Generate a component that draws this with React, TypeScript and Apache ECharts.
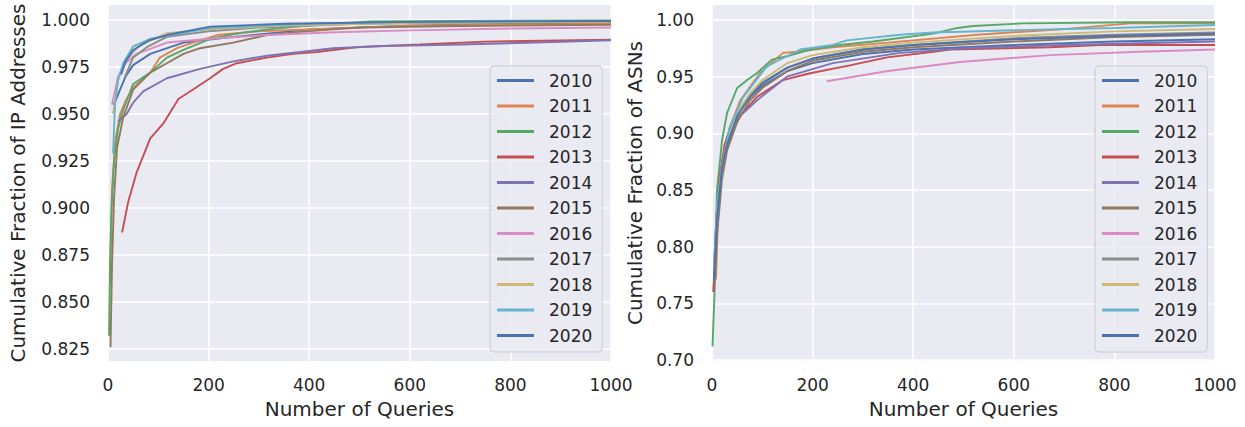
import React, { useEffect, useRef } from "react";
import * as echarts from "echarts";

const years = ["2010", "2011", "2012", "2013", "2014", "2015", "2016", "2017", "2018", "2019", "2020"];
const palette = ["#4C72B0", "#DD8452", "#55A868", "#C44E52", "#8172B3", "#937860", "#DA8BC3", "#8C8C8C", "#CCB974", "#64B5CD", "#4C72B0"];

const xTicks = [0, 200, 400, 600, 800, 1000];
const ipTicks = [0.825, 0.85, 0.875, 0.9, 0.925, 0.95, 0.975, 1.0];
const asnTicks = [0.7, 0.75, 0.8, 0.85, 0.9, 0.95, 1.0];

// Left panel: cumulative fraction of IP addresses
const ip2010 = [[10, 0.955], [15, 0.957], [24, 0.963], [35, 0.97], [50, 0.976], [84, 0.982], [150, 0.988], [250, 0.991], [400, 0.995], [600, 0.997], [800, 0.998], [1000, 0.9985]];
const ip2011 = [[4, 0.86], [8, 0.91], [14, 0.935], [24, 0.95], [35, 0.957], [50, 0.964], [84, 0.972], [103, 0.98], [137, 0.985], [169, 0.988], [217, 0.992], [300, 0.994], [400, 0.995], [600, 0.997], [800, 0.9975], [1000, 0.998]];
const ip2012 = [[2, 0.832], [4, 0.87], [7, 0.9], [12, 0.925], [20, 0.942], [30, 0.952], [50, 0.966], [84, 0.972], [117, 0.98], [149, 0.984], [203, 0.99], [262, 0.993], [316, 0.995], [400, 0.997], [520, 0.9992], [700, 0.9995], [1000, 0.9997]];
const ip2013 = [[28, 0.887], [40, 0.903], [57, 0.919], [84, 0.937], [110, 0.945], [140, 0.958], [169, 0.963], [203, 0.969], [229, 0.974], [256, 0.977], [316, 0.98], [368, 0.982], [415, 0.983], [501, 0.9857], [620, 0.987], [750, 0.9885], [1000, 0.9895]];
const ip2014 = [[20, 0.946], [37, 0.95], [50, 0.956], [70, 0.962], [117, 0.969], [183, 0.974], [249, 0.978], [316, 0.981], [382, 0.983], [447, 0.985], [550, 0.9862], [700, 0.987], [850, 0.988], [1000, 0.9892]];
const ip2015 = [[5, 0.826], [8, 0.87], [12, 0.905], [18, 0.932], [30, 0.948], [50, 0.963], [84, 0.972], [117, 0.977], [150, 0.982], [183, 0.985], [249, 0.988], [316, 0.992], [382, 0.9937], [447, 0.995], [501, 0.996], [700, 0.9968], [1000, 0.9975]];
const ip2016 = [[8, 0.955], [20, 0.97], [35, 0.977], [57, 0.982], [117, 0.988], [203, 0.99], [316, 0.992], [450, 0.9935], [600, 0.9945], [800, 0.9955], [1000, 0.996]];
const ip2017 = [[34, 0.97], [50, 0.98], [80, 0.986], [117, 0.991], [200, 0.994], [300, 0.996], [500, 0.998], [700, 0.9985], [1000, 0.999]];
const ip2018 = [[10, 0.95], [20, 0.968], [35, 0.978], [60, 0.986], [117, 0.993], [200, 0.995], [350, 0.997], [600, 0.9985], [1000, 0.999]];
const ip2019 = [[10, 0.929], [14, 0.955], [20, 0.968], [30, 0.977], [50, 0.986], [84, 0.99], [203, 0.9957], [400, 0.998], [600, 0.999], [1000, 0.9995]];
const ip2020 = [[26, 0.971], [35, 0.978], [50, 0.984], [80, 0.989], [117, 0.992], [203, 0.9965], [350, 0.998], [600, 0.999], [1000, 0.9995]];

// Right panel: cumulative fraction of ASNs
const as2010 = [[3, 0.76], [6, 0.8], [10, 0.835], [20, 0.875], [30, 0.897], [50, 0.918], [75, 0.932], [100, 0.942], [150, 0.955], [200, 0.962], [300, 0.97], [400, 0.974], [600, 0.978], [800, 0.981], [1000, 0.983]];
const as2011 = [[8, 0.771], [12, 0.83], [22, 0.879], [35, 0.905], [56, 0.929], [95, 0.953], [141, 0.971], [169, 0.972], [240, 0.976], [350, 0.98], [527, 0.987], [700, 0.992], [831, 0.997], [1000, 0.997]];
const as2012 = [[1, 0.712], [6, 0.771], [10, 0.85], [20, 0.894], [30, 0.918], [50, 0.94], [70, 0.947], [89, 0.953], [119, 0.965], [149, 0.968], [195, 0.974], [254, 0.978], [320, 0.981], [440, 0.988], [488, 0.993], [519, 0.9947], [616, 0.997], [831, 0.998], [1000, 0.998]];
const as2013 = [[3, 0.76], [8, 0.82], [15, 0.86], [25, 0.89], [42, 0.909], [89, 0.932], [141, 0.947], [195, 0.953], [274, 0.96], [348, 0.967], [440, 0.972], [473, 0.974], [672, 0.976], [771, 0.978], [1000, 0.978]];
const as2014 = [[4, 0.77], [10, 0.83], [20, 0.87], [35, 0.895], [55, 0.915], [89, 0.929], [149, 0.95], [240, 0.962], [374, 0.971], [500, 0.975], [700, 0.978], [1000, 0.981]];
const as2015 = [[6, 0.772], [10, 0.81], [20, 0.86], [30, 0.885], [50, 0.91], [75, 0.929], [100, 0.94], [150, 0.955], [200, 0.964], [300, 0.972], [400, 0.976], [600, 0.981], [800, 0.985], [1000, 0.987]];
const as2016 = [[228, 0.946], [350, 0.955], [493, 0.963], [672, 0.969], [850, 0.972], [1000, 0.974]];
const as2017 = [[4, 0.78], [10, 0.83], [20, 0.868], [30, 0.89], [50, 0.915], [75, 0.933], [100, 0.945], [150, 0.958], [200, 0.966], [300, 0.974], [400, 0.978], [600, 0.984], [800, 0.987], [1000, 0.989]];
const as2018 = [[4, 0.78], [10, 0.835], [20, 0.872], [30, 0.893], [50, 0.918], [75, 0.935], [100, 0.947], [150, 0.962], [200, 0.969], [300, 0.976], [400, 0.98], [600, 0.986], [800, 0.99], [1000, 0.992]];
const as2019 = [[5, 0.79], [10, 0.835], [20, 0.87], [35, 0.905], [62, 0.932], [109, 0.959], [175, 0.974], [240, 0.978], [268, 0.982], [374, 0.987], [440, 0.989], [600, 0.991], [800, 0.993], [1000, 0.9956]];
const as2020 = [[4, 0.77], [10, 0.825], [20, 0.87], [30, 0.89], [50, 0.915], [75, 0.932], [100, 0.944], [150, 0.958], [200, 0.966], [300, 0.974], [400, 0.978], [600, 0.983], [800, 0.986], [1000, 0.988]];

const ipSeries = [ip2010, ip2011, ip2012, ip2013, ip2014, ip2015, ip2016, ip2017, ip2018, ip2019, ip2020];
const asSeries = [as2010, as2011, as2012, as2013, as2014, as2015, as2016, as2017, as2018, as2019, as2020];

const FONT = "DejaVu Sans";
const TXT = "#262626";
const BG = "#EAEAF2";

function xAxis(gridIndex: number) {
  return {
    type: "value",
    gridIndex,
    min: xTicks[0],
    max: xTicks[xTicks.length - 1],
    interval: xTicks[1] - xTicks[0],
    name: "Number of Queries",
    nameLocation: "middle",
    nameGap: 38,
    nameTextStyle: { fontFamily: FONT, fontSize: 20, color: TXT },
    axisLine: { show: false },
    axisTick: { show: false },
    axisLabel: { fontFamily: FONT, fontSize: 17, color: TXT, margin: 15, formatter: (v: number) => String(v) },
    splitLine: { show: true, lineStyle: { color: "#ffffff", width: 1.5 } },
  };
}

function yAxis(gridIndex: number, min: number, max: number, ticks: number[], digits: number, name: string, gap: number) {
  return {
    type: "value",
    gridIndex,
    min,
    max,
    name,
    nameLocation: "middle",
    nameRotate: 90,
    nameGap: gap,
    nameTextStyle: { fontFamily: FONT, fontSize: 20, color: TXT },
    axisLine: { show: false },
    axisTick: { show: false, customValues: ticks },
    axisLabel: {
      fontFamily: FONT,
      fontSize: 17,
      color: TXT,
      margin: 18,
      customValues: ticks,
      formatter: (v: number) => v.toFixed(digits),
    },
    splitLine: { show: true, lineStyle: { color: "#ffffff", width: 1.5 } },
  };
}

function legend(left: number) {
  return {
    show: true,
    orient: "vertical",
    left,
    top: 66,
    data: years,
    icon: "rect",
    itemWidth: 37,
    itemHeight: 3,
    itemGap: 8.5,
    padding: [6, 10, 8, 7],
    backgroundColor: "rgba(234,234,242,0.8)",
    borderColor: "#cccccc",
    borderWidth: 1,
    borderRadius: 4,
    textStyle: { fontFamily: FONT, fontSize: 17, color: TXT, lineHeight: 17, padding: [0, 0, 0, 10] },
  };
}

export default function App() {
  const ref = useRef<HTMLDivElement>(null);
  useEffect(() => {
    if (!ref.current) return;
    const chart = echarts.init(ref.current, undefined, { renderer: "svg" });
    const series: any[] = [];
    const add = (data: number[][], i: number, axis: number) => {
      series.push({
        name: years[i],
        type: "line",
        xAxisIndex: axis,
        yAxisIndex: axis,
        data,
        showSymbol: false,
        symbol: "none",
        lineStyle: { color: palette[i], width: 1.9 },
        itemStyle: { color: palette[i] },
      });
    };
    ipSeries.forEach((d, i) => add(d, i, 0));
    asSeries.forEach((d, i) => add(d, i, 1));
    chart.setOption({
      animation: false,
      backgroundColor: "#ffffff",
      grid: [
        { left: 108, top: 5, width: 503, height: 356, show: true, backgroundColor: BG, borderWidth: 0, containLabel: false },
        { left: 712, top: 5, width: 503, height: 356, show: true, backgroundColor: BG, borderWidth: 0, containLabel: false },
      ],
      xAxis: [xAxis(0), xAxis(1)],
      yAxis: [
        yAxis(0, 0.81862, 1.00798, ipTicks, 3, "Cumulative Fraction of IP Addresses", 80),
        yAxis(1, 0.69912, 1.01324, asnTicks, 2, "Cumulative Fraction of ASNs", 67),
      ],
      legend: [legend(490), legend(1095)],
      series,
    });
    return () => chart.dispose();
  }, []);
  return <div ref={ref} style={{ position: "fixed", left: 0, top: 0, width: 1245, height: 427 }} />;
}
